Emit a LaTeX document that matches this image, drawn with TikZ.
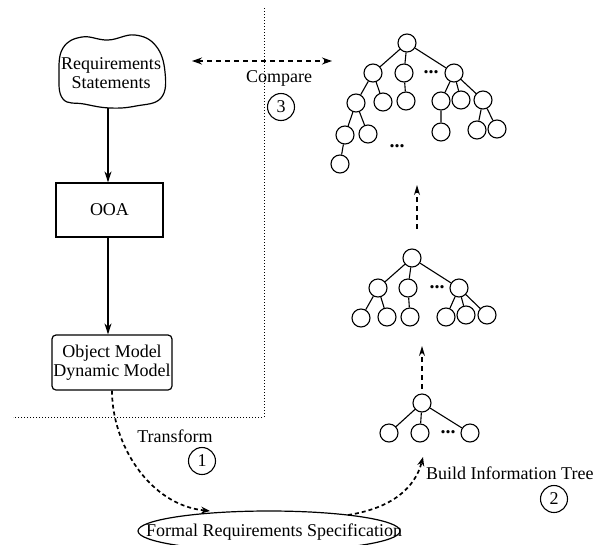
\documentclass[tikz,border=0pt]{standalone}
\usepackage{fontspec}
\setmainfont{Liberation Serif}
\usetikzlibrary{arrows.meta,shapes.geometric}
\begin{document}
\begin{tikzpicture}[x=1pt,y=-1pt,
  every node/.style={font=\fontsize{18}{19.5}\selectfont},
  tnode/.style={circle,draw,line width=1.1pt,minimum size=18pt,inner sep=0pt},
  tedge/.style={line width=1.1pt},
  dotsnode/.style={inner sep=0pt,font=\fontsize{20}{20}\selectfont\bfseries},
  numc/.style={circle,draw,line width=1.1pt,minimum size=27pt,inner sep=0pt},
  solidarrow/.style={line width=1.3pt,-{Stealth[length=11pt,width=7pt]}},
  dasharrow/.style={line width=1.7pt,dash pattern=on 4pt off 3pt,-{Stealth[length=9pt,width=7pt]}},
  thindash/.style={line width=1.3pt,dash pattern=on 5pt off 4pt,-{Stealth[length=10pt,width=6pt]}},
  divider/.style={line width=1pt,dotted},
  box/.style={draw,line width=1.2pt,inner sep=0pt}
]
\useasboundingbox (0,0) rectangle (602,544);

% dotted dividers
\coordinate (dv1) at (264,8);
\coordinate (dv2) at (264,417);
\coordinate (dv3) at (13,417);
\draw[divider] (dv1) -- (dv2) -- (dv3);

% cloud
\draw[line width=1.2pt] plot[smooth cycle,tension=0.7] coordinates {
 (63,48) (82,37) (108,40) (135,35) (156,46) (165,72) (161,98) (136,106) (110,108) (84,104) (63,99) (59,74)};
\node[align=center,inner sep=0pt] (req) at (111,73) {Requirements\\Statements};
\coordinate (reqb) at (108,108);

% OOA
\node[box,minimum width=107pt,minimum height=54pt] (ooa) at (109.5,210) {OOA};
% Object model box
\node[box,rounded corners=4pt,minimum width=120pt,minimum height=55pt,align=center] (om) at (112,362.5) {Object Model\\Dynamic Model};

\draw[solidarrow] (reqb) -- (ooa.north -| reqb);
\draw[solidarrow] (ooa.south -| reqb) -- (om.north -| reqb);

% ellipse
\node[draw,ellipse,line width=1.2pt,minimum width=262pt,minimum height=40pt,inner sep=0pt] (frs) at (269,531) {};
\node[inner sep=0pt,anchor=west] (frstext) at (146,532) {Formal Requirements Specification};

% transform
\coordinate (frstop) at (210,511);
\draw[dasharrow] (om.south) .. controls (112,445) and (150,505) .. (frstop);
\node (tr) at (175,436) {Transform};
\node[numc] (c1) at (202,461) {1};

% build information tree
\coordinate (frsr) at (348,515);
\coordinate (stbot) at (423,457);
\draw[dasharrow] (frsr) .. controls (392,508) and (415,488) .. (stbot);
\node[anchor=west,inner sep=0pt] (bit) at (426,473) {Build Information Tree};
\node[numc] (c2) at (554,499) {2};

% compare
\coordinate (cmpL) at (192,61);
\coordinate (cmpR) at (332,61);
\draw[line width=1.4pt,dash pattern=on 5pt off 4pt,{Stealth[length=10pt,width=7pt]}-{Stealth[length=10pt,width=7pt]}] (cmpL) -- (cmpR);
\node (cmp) at (279,78) {Compare};
\node[numc] (c3) at (281,107) {3};

% big tree
\node[tnode] (bR) at (407,43) {};
\node[tnode] (b1) at (373,73) {};
\node[tnode] (b2) at (404,73) {};
\node[dotsnode] (bd1) at (431,72) {...};
\node[tnode] (b3) at (454,73) {};
\node[tnode] (b11) at (356,103) {};
\node[tnode] (b12) at (383,102) {};
\node[tnode] (b21) at (406,101) {};
\node[tnode] (b31) at (441,101) {};
\node[tnode] (b32) at (461,100) {};
\node[tnode] (b33) at (483,100) {};
\node[tnode] (b111) at (345,135) {};
\node[tnode] (b112) at (368,134) {};
\node[tnode] (b311) at (441,132) {};
\node[tnode] (b331) at (477,130) {};
\node[tnode] (b332) at (497,129) {};
\node[tnode] (b1111) at (340,164) {};
\node[dotsnode] (bd2) at (397,146) {...};
\draw[tedge] (bR) -- (b1) (bR) -- (b2) (bR) -- (b3)
  (b1) -- (b11) (b1) -- (b12) (b2) -- (b21)
  (b3) -- (b31) (b3) -- (b32) (b3) -- (b33)
  (b11) -- (b111) (b11) -- (b112) (b31) -- (b311)
  (b33) -- (b331) (b33) -- (b332) (b111) -- (b1111);

% mid tree
\node[tnode] (mR) at (412,258) {};
\node[tnode] (m1) at (378,288) {};
\node[tnode] (m2) at (408,288) {};
\node[dotsnode] (md) at (437,287) {...};
\node[tnode] (m3) at (459,288) {};
\node[tnode] (m11) at (361,318) {};
\node[tnode] (m12) at (387,317) {};
\node[tnode] (m21) at (410,317) {};
\node[tnode] (m31) at (446,317) {};
\node[tnode] (m32) at (466,315) {};
\node[tnode] (m33) at (487,315) {};
\draw[tedge] (mR) -- (m1) (mR) -- (m2) (mR) -- (m3)
  (m1) -- (m11) (m1) -- (m12) (m2) -- (m21)
  (m3) -- (m31) (m3) -- (m32) (m3) -- (m33);

% small tree
\node[tnode] (sR) at (422,403) {};
\node[tnode] (s1) at (389,433) {};
\node[tnode] (s2) at (420,433) {};
\node[dotsnode] (sd) at (448,432) {...};
\node[tnode] (s3) at (470,433) {};
\draw[tedge] (sR) -- (s1) (sR) -- (s2) (sR) -- (s3);

% arrows between trees
\coordinate (a1s) at (417,229);
\coordinate (a1e) at (417,185);
\draw[thindash] (a1s) -- (a1e);
\coordinate (a2s) at (422,389);
\coordinate (a2e) at (422,346);
\draw[thindash] (a2s) -- (a2e);
\end{tikzpicture}
\end{document}
